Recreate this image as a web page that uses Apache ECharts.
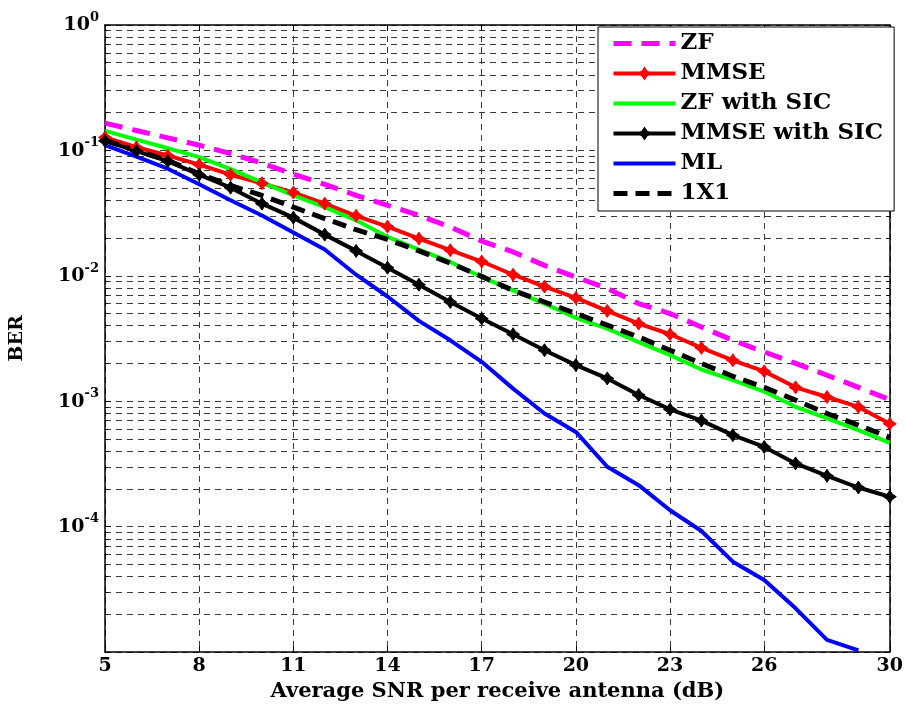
<!DOCTYPE html>
<html><head><meta charset="utf-8">
<script src="https://cdn.jsdelivr.net/npm/echarts@6/dist/echarts.min.js"></script>
<style>html,body{margin:0;padding:0;background:#fff}#c{width:906px;height:708px}</style>
</head><body><div id="c"></div>
<script>
const snr = [5,6,7,8,9,10,11,12,13,14,15,16,17,18,19,20,21,22,23,24,25,26,27,28,29,30];
const xTicks = [5,8,11,14,17,20,23,26,30];
const seriesNames = ['ZF','MMSE','ZF with SIC','MMSE with SIC','ML','1X1'];
const zf = [0.165,0.144,0.126,0.110,0.0942,0.0793,0.0646,0.0536,0.0438,0.0365,0.0303,0.0245,0.0189,0.0155,0.0121,0.00977,0.00791,0.0060,0.0050,0.00391,0.00306,0.00247,0.00200,0.00161,0.00129,0.00103];
const mmse = [0.127,0.106,0.091,0.077,0.064,0.0547,0.0461,0.0376,0.0301,0.0247,0.0198,0.0160,0.0130,0.0102,0.0082,0.00666,0.00525,0.00416,0.00342,0.00266,0.00212,0.00173,0.00129,0.00108,0.00090,0.00066];
const zfSic = [0.143,0.122,0.104,0.0885,0.0708,0.0556,0.0438,0.0353,0.0277,0.0204,0.0162,0.0129,0.00977,0.00766,0.0060,0.00462,0.00379,0.00296,0.00233,0.00179,0.00147,0.00119,0.000902,0.000728,0.000587,0.000466];
const mmseSic = [0.119,0.0987,0.082,0.064,0.0504,0.0376,0.0291,0.0213,0.0158,0.0116,0.0085,0.00618,0.00456,0.00342,0.00255,0.00194,0.00152,0.00112,0.00086,0.00070,0.000536,0.000432,0.000319,0.000254,0.000205,0.000173];
const ml = [0.110,0.0891,0.0715,0.0537,0.040,0.0303,0.0221,0.0162,0.0102,0.00684,0.00437,0.00306,0.00206,0.00126,0.000798,0.000569,0.0003,0.000214,0.000135,0.0000923,0.0000525,0.0000375,0.0000223,0.0000125,0.0000103,null];
const oneByOne = [0.120,0.100,0.0832,0.0652,0.0525,0.0437,0.0353,0.0286,0.0233,0.0195,0.0158,0.0126,0.00989,0.00766,0.00618,0.0050,0.00404,0.00325,0.00255,0.0020,0.00158,0.00129,0.00102,0.000798,0.000644,0.000514];

const FONT = 'DejaVu Serif';
const pair = arr => snr.map((x, i) => [x, arr[i]]);
const star = 'path://M0,-5 L2,-2 L5,0 L2,2 L0,5 L-2,2 L-5,0 L-2,-2 Z';
const gridLine = {color: '#3a3a3a', width: 1, type: [6, 5]};
const axisLine = {show: true, onZero: false, lineStyle: {color: '#000', width: 1.5}};
const noMarker = {opacity: 0};

const chart = echarts.init(document.getElementById('c'));
chart.setOption({
  animation: false,
  backgroundColor: '#fff',
  grid: {left: 103, right: 15, top: 25, bottom: 56, show: false},
  legend: {
    data: [
      {name: seriesNames[0], itemStyle: noMarker},
      {name: seriesNames[1]},
      {name: seriesNames[2], itemStyle: noMarker},
      {name: seriesNames[3]},
      {name: seriesNames[4], itemStyle: noMarker},
      {name: seriesNames[5], itemStyle: noMarker}
    ],
    orient: 'vertical',
    left: 598, top: 27,
    itemWidth: 62, itemHeight: 13, itemGap: 7,
    padding: [5, 11, 6, 13],
    backgroundColor: '#fff', borderColor: '#000', borderWidth: 1,
    lineStyle: {width: 'inherit'},
    textStyle: {fontFamily: FONT, fontWeight: 'bold', fontSize: 23, color: '#000'},
    z: 10
  },
  xAxis: [{
    type: 'value', min: 5, max: 30, position: 'bottom',
    axisLine: axisLine,
    axisTick: {show: true, inside: true, length: 6, customValues: xTicks, lineStyle: {color: '#000'}},
    axisLabel: {customValues: xTicks, margin: 5, fontFamily: FONT, fontWeight: 'bold', fontSize: 19, color: '#000'},
    splitLine: {show: true, lineStyle: gridLine},
    name: 'Average SNR per receive antenna (dB)', nameLocation: 'middle', nameGap: 28,
    nameTextStyle: {fontFamily: FONT, fontWeight: 'bold', fontSize: 21, color: '#000'}
  }, {
    type: 'value', min: 5, max: 30, position: 'top',
    axisLine: axisLine,
    axisTick: {show: true, inside: true, length: 6, customValues: xTicks, lineStyle: {color: '#000'}},
    axisLabel: {show: false}, splitLine: {show: false}
  }],
  yAxis: [{
    type: 'log', logBase: 10, min: 1e-5, max: 1, position: 'left',
    axisLine: axisLine,
    axisTick: {show: true, inside: true, length: 6, lineStyle: {color: '#000'}},
    minorTick: {show: true, splitNumber: 9, length: 3, lineStyle: {color: '#000'}},
    axisLabel: {
      margin: 6,
      formatter: v => { const e = Math.round(Math.log10(v)); return e <= -5 ? '' : '{b|10}{s|' + e + '}'; },
      rich: {
        b: {fontFamily: FONT, fontWeight: 'bold', fontSize: 19, color: '#000', verticalAlign: 'bottom', lineHeight: 20},
        s: {fontFamily: FONT, fontWeight: 'bold', fontSize: 13, color: '#000', verticalAlign: 'bottom', lineHeight: 13, padding: [0, 0, 11, 0]}
      }
    },
    splitLine: {show: true, lineStyle: gridLine},
    minorSplitLine: {show: true, lineStyle: gridLine},
    name: 'BER', nameLocation: 'middle', nameGap: 78, nameRotate: 90,
    nameTextStyle: {fontFamily: FONT, fontWeight: 'bold', fontSize: 19, color: '#000'}
  }, {
    type: 'log', logBase: 10, min: 1e-5, max: 1, position: 'right',
    axisLine: axisLine,
    axisTick: {show: true, inside: true, length: 6, lineStyle: {color: '#000'}},
    minorTick: {show: true, splitNumber: 9, length: 3, lineStyle: {color: '#000'}},
    axisLabel: {show: false}, splitLine: {show: false}, minorSplitLine: {show: false}
  }],
  series: [
    {name: 'ZF', type: 'line', data: pair(zf), symbol: 'none', color: '#ff00ff',
     lineStyle: {color: '#ff00ff', width: 5, type: [18, 10]}},
    {name: 'MMSE', type: 'line', data: pair(mmse), symbol: star, symbolSize: 13, color: '#ff0000',
     itemStyle: {color: '#ff0000', borderColor: '#ff0000', borderWidth: 1}, lineStyle: {color: '#ff0000', width: 4}},
    {name: 'ZF with SIC', type: 'line', data: pair(zfSic), symbol: 'none', color: '#00ff00',
     lineStyle: {color: '#00ff00', width: 4}},
    {name: 'MMSE with SIC', type: 'line', data: pair(mmseSic), symbol: star, symbolSize: 13, color: '#000000',
     itemStyle: {color: '#000', borderColor: '#000', borderWidth: 1}, lineStyle: {color: '#000', width: 4}},
    {name: 'ML', type: 'line', data: pair(ml), symbol: 'none', color: '#0000ff',
     lineStyle: {color: '#0000ff', width: 4}},
    {name: '1X1', type: 'line', data: pair(oneByOne), symbol: 'none', color: '#000000',
     lineStyle: {color: '#000', width: 5, type: [14, 8]}}
  ]
});
</script></body></html>
